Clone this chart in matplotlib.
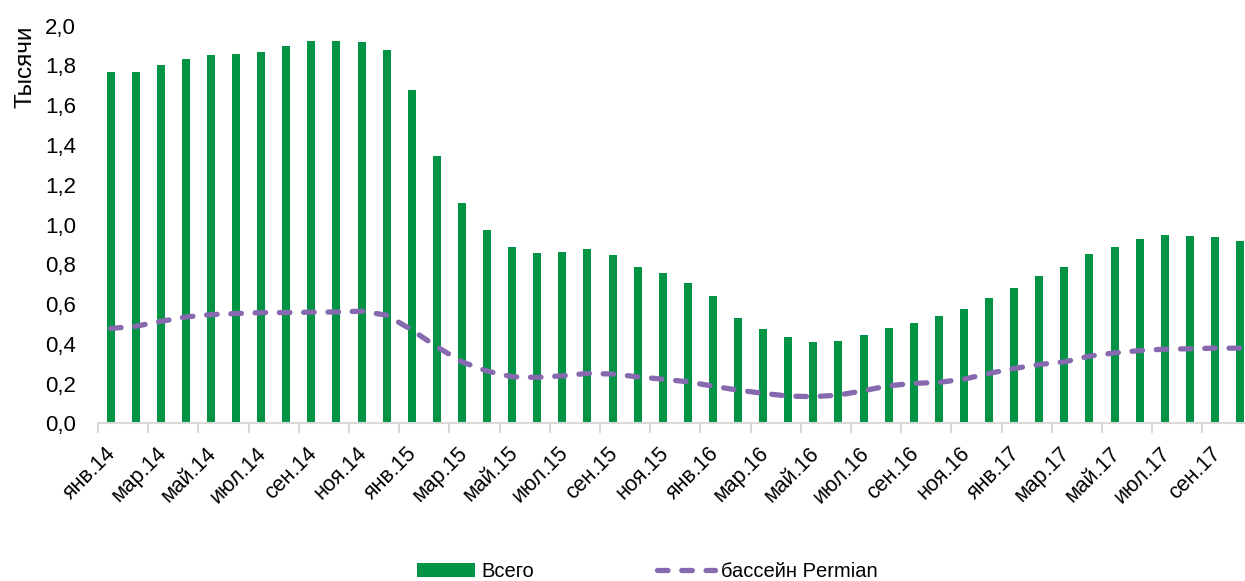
import matplotlib
matplotlib.use("Agg")
import matplotlib.pyplot as plt
import matplotlib.transforms as mtransforms
import numpy as np
from matplotlib.ticker import FixedLocator, FuncFormatter

plt.rcParams["font.family"] = ["Liberation Sans", "DejaVu Sans"]

# месячные данные, янв.2014 - окт.2017 (тыс. буровых)
month_names = ["янв", "фев", "мар", "апр", "май", "июн",
               "июл", "авг", "сен", "окт", "ноя", "дек"]
years = [14, 15, 16, 17]
months = [f"{m}.{y}" for y in years for m in month_names][:46]

total = [1.765, 1.765, 1.800, 1.832, 1.854, 1.859, 1.870, 1.900, 1.924, 1.921,
         1.919, 1.879, 1.678, 1.343, 1.106, 0.972, 0.885, 0.858, 0.863, 0.878,
         0.845, 0.786, 0.756, 0.708, 0.639, 0.529, 0.473, 0.433, 0.407, 0.413,
         0.445, 0.478, 0.507, 0.540, 0.577, 0.629, 0.679, 0.741, 0.785, 0.850,
         0.889, 0.927, 0.949, 0.944, 0.937, 0.919]

permian = [0.477, 0.488, 0.513, 0.535, 0.547, 0.552, 0.557, 0.557, 0.559, 0.560,
           0.564, 0.544, 0.470, 0.385, 0.309, 0.263, 0.234, 0.231, 0.239, 0.251,
           0.248, 0.234, 0.222, 0.209, 0.187, 0.167, 0.151, 0.137, 0.134, 0.142,
           0.164, 0.189, 0.201, 0.206, 0.222, 0.251, 0.276, 0.296, 0.309, 0.338,
           0.354, 0.366, 0.373, 0.375, 0.378, 0.378]

GREEN = "#009444"
PURPLE = "#8669AE"
AXIS_GRAY = "#D9D9D9"

fig = plt.figure(figsize=(12.45, 5.81), dpi=100)
ax = fig.add_axes([0.0787, 0.2714, 0.9274, 0.6843])

x = np.arange(len(months))
ax.bar(x, total, width=0.32, color=GREEN, label="Всего", zorder=2)
ax.plot(x, permian, color=PURPLE, linewidth=3.8, linestyle=(0, (2.0, 2.6)),
        dash_capstyle="round", label="бассейн Permian", zorder=3)

ax.set_xlim(-0.5, len(months) - 0.5)
ax.set_ylim(0, 2.0)
ax.set_yticks(np.arange(0, 2.01, 0.2))
ax.yaxis.set_major_formatter(FuncFormatter(lambda v, _: f"{v:.1f}".replace(".", ",")))
ax.tick_params(axis="y", length=0, pad=16, labelsize=16)
ax.set_ylabel("Тысячи", fontsize=17.5, loc="top", labelpad=6)

# подписи через месяц, засечки на границах категорий
label_pos = x[::2]
ax.xaxis.set_major_locator(FixedLocator(label_pos))
ax.set_xticklabels([months[i] for i in label_pos], rotation=45, ha="right",
                   va="top", rotation_mode="anchor", fontsize=15.5)
ax.tick_params(axis="x", which="major", length=0, pad=14)
shift = mtransforms.ScaledTranslation(-5 / 100, 0, fig.dpi_scale_trans)
for lbl in ax.get_xticklabels():
    lbl.set_transform(lbl.get_transform() + shift)
ax.xaxis.set_minor_locator(FixedLocator(np.arange(-0.5, len(months), 2)))
ax.tick_params(axis="x", which="minor", length=7, width=1.5, color=AXIS_GRAY)

for side in ("top", "right", "left"):
    ax.spines[side].set_visible(False)
ax.spines["bottom"].set_color(AXIS_GRAY)
ax.spines["bottom"].set_linewidth(1.5)
ax.spines["bottom"].set_zorder(4)

handles, labels = ax.get_legend_handles_labels()
order = [labels.index("Всего"), labels.index("бассейн Permian")]
fig.legend([handles[i] for i in order], [labels[i] for i in order],
           loc="center", bbox_to_anchor=(0.52, 0.0155), ncol=2,
           frameon=False, fontsize=14.5, handlelength=2.9, handletextpad=0.3,
           columnspacing=6.1)

fig.savefig("out.png", dpi=100)
